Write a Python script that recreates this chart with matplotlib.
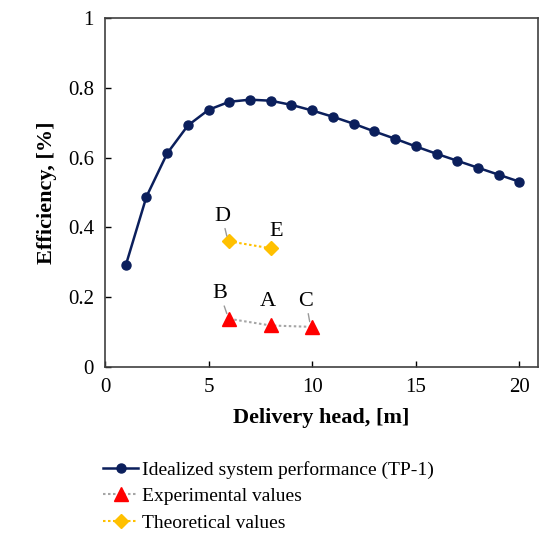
import matplotlib
matplotlib.use("Agg")
import matplotlib.pyplot as plt
from matplotlib.ticker import FuncFormatter

plt.rcParams['font.family'] = ['Liberation Serif', 'DejaVu Serif']

# Dados
head_ideal = list(range(1, 21))
eff_ideal = [0.291, 0.488, 0.612, 0.692, 0.737, 0.760, 0.766, 0.763, 0.751, 0.735,
             0.717, 0.697, 0.675, 0.654, 0.632, 0.611, 0.591, 0.571, 0.551, 0.531]

head_exp = [6, 8, 10]
eff_exp = [0.138, 0.119, 0.115]
labels_exp = ["B", "A", "C"]

head_teo = [6, 8]
eff_teo = [0.360, 0.340]
labels_teo = ["D", "E"]

navy = "#0b1f5c"
gold = "#ffc000"

fig = plt.figure(figsize=(5.41, 5.34), dpi=100)
ax = fig.add_axes([0.1941, 0.3127, 0.8004, 0.6536])

ax.plot(head_ideal, eff_ideal, color=navy, lw=1.8, marker="o", ms=6.5,
        label="Idealized system performance (TP-1)", zorder=3)
ax.plot(head_exp, eff_exp, color="#a6a6a6", lw=1.5, ls=(0, (1.2, 1.2)), marker="^",
        ms=10, mfc="red", mec="red", label="Experimental values", zorder=3)
ax.plot(head_teo, eff_teo, color=gold, lw=1.5, ls=(0, (1.2, 1.2)), marker="D",
        ms=7.5, mfc=gold, mec=gold, label="Theoretical values", zorder=3)

# rótulos dos pontos (posição do texto, com linha guia quando existe)
pos_txt = {"D": (5.65, 0.432), "E": (8.25, 0.388), "B": (5.55, 0.210),
           "A": (7.85, 0.188), "C": (9.7, 0.188)}
guia = {"D": True, "E": False, "B": True, "A": False, "C": True}
for lab, x, y in list(zip(labels_exp, head_exp, eff_exp)) + list(zip(labels_teo, head_teo, eff_teo)):
    tx, ty = pos_txt[lab]
    if guia[lab]:
        ax.annotate(lab, xy=(x - 0.12, y + 0.015), xytext=(tx, ty), ha="center", va="center",
                    fontsize=16, arrowprops=dict(arrowstyle="-", color="#999999", lw=1,
                                                 shrinkA=9, shrinkB=0))
    else:
        ax.text(tx, ty, lab, ha="center", va="center", fontsize=16)

ax.set_xlim(0, 20.9)
ax.set_ylim(0, 1)
ax.set_xticks([0, 5, 10, 15, 20])
ax.set_yticks([0, 0.2, 0.4, 0.6, 0.8, 1.0])
ax.yaxis.set_major_formatter(FuncFormatter(lambda v, p: f"{v:g}"))
ax.tick_params(direction="in", length=4, width=1, labelsize=15, pad=8)
for s in ax.spines.values():
    s.set_color("#404040")
    s.set_linewidth(1.2)

ax.set_xlabel("Delivery head, [m]", fontsize=16, fontweight="bold", labelpad=8)
ax.set_ylabel("Efficiency, [%]", fontsize=16, fontweight="bold", labelpad=8)

fig.legend(loc="upper left", bbox_to_anchor=(0.173, 0.155),
           frameon=False, fontsize=14, handlelength=1.8, handletextpad=0.2,
           labelspacing=0.45, borderpad=0)

fig.savefig("out.png", dpi=100)
